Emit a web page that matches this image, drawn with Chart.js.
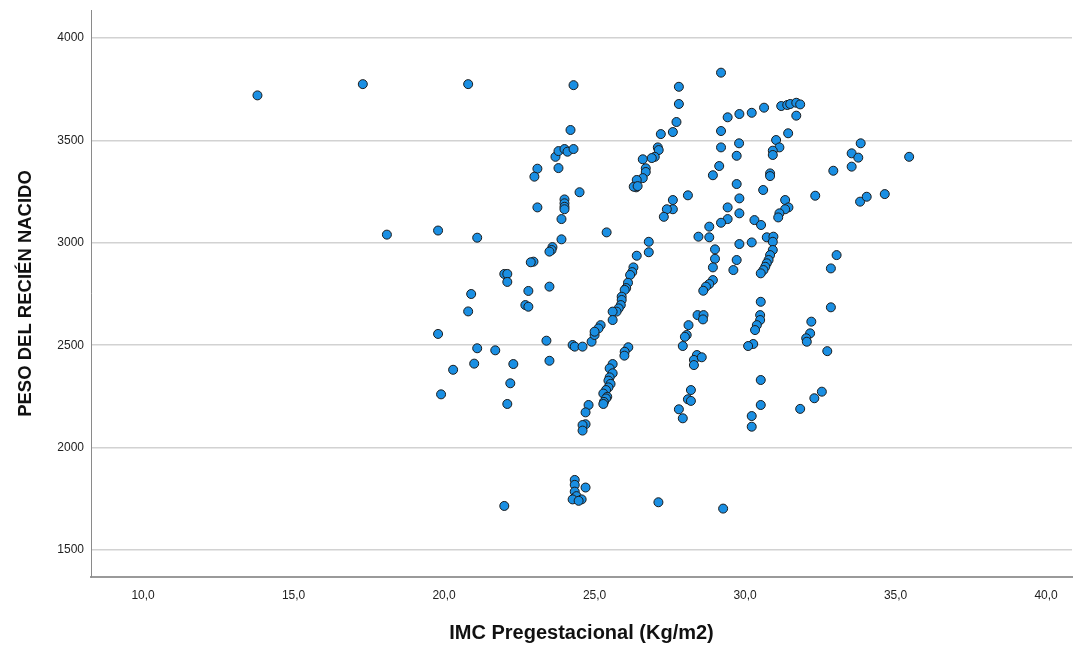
<!DOCTYPE html>
<html>
<head>
<meta charset="utf-8">
<script src="https://cdn.jsdelivr.net/npm/chart.js@4/dist/chart.umd.min.js"></script>
<style>
	html, body { margin: 0; padding: 0; background: #fff; }
	#wrap { width: 1086px; height: 645px; }
</style>
</head>
<body>
<div id="wrap"><canvas id="mycanvas" width="1086" height="645"></canvas></div>
<script>
// IMC pregestacional (x) y peso del recién nacido (y)
var imc = [
	13.8, 17.3, 18.1, 20.8, 19.8, 19.8, 19.9, 20.3, 20.8, 20.9, 21.0, 21.1, 21.1, 21.7, 22.0, 22.0, 22.1, 22.1, 22.1, 22.2, 22.3,
	24.3, 24.2, 23.7, 23.8, 24.0, 24.1, 24.3, 23.8, 23.1, 23.0, 24.5, 24.0, 24.0, 24.0, 24.0, 23.1, 23.9, 23.9, 23.6, 23.57, 23.5,
	22.97, 22.88, 22.8, 23.5, 22.7, 22.8,
	23.4, 24.27, 24.34, 24.6, 24.9, 25.0, 23.5, 24.8, 24.7, 24.7, 24.6, 24.6, 24.34, 24.34, 24.34, 24.32, 24.7, 24.4, 24.57, 24.27, 24.47,
	27.8, 27.8, 27.72, 27.6, 27.2, 27.1, 27.13, 27.0, 26.9, 26.6, 26.7, 26.7, 26.6, 26.4, 26.38, 26.3, 26.43, 28.1, 27.6, 27.6, 27.4, 27.3,
	25.4, 28.45, 26.8, 26.8, 26.4, 26.29, 26.25, 26.18, 26.11, 26.05,
	26.0, 25.9, 25.9, 25.87, 25.8, 25.73, 25.6, 25.6, 25.2, 25.13, 25.0, 26.12, 26.0, 25.99,
	25.6, 25.5, 25.6, 25.5, 25.46, 25.53, 25.46, 25.38, 25.29, 25.42, 25.38, 25.31, 25.29,
	27.12, 28.12, 28.06, 27.93, 28.0, 28.42, 28.62, 28.6, 28.4, 28.3, 28.3, 28.56, 28.2, 28.1, 28.2, 27.8, 27.93,
	29.2, 29.42, 29.81, 30.22, 30.63, 31.2, 31.4, 31.5, 31.7, 31.83, 31.7, 29.2, 31.43, 29.2, 29.8, 31.03, 31.14, 30.92, 30.92, 29.72,
	29.14, 28.93, 30.83, 30.83, 29.72, 30.6, 29.81, 31.33, 31.44, 31.33, 31.14, 31.1, 29.42, 29.42, 29.2, 29.81, 30.31, 30.53,
	28.81, 28.81, 30.72, 30.94, 30.92, 29.81, 30.22, 29.0, 29.0, 28.93, 30.92, 30.83, 30.78, 30.72, 30.67, 30.61, 30.52,
	29.72, 29.61, 28.93, 28.81, 28.7, 28.61, 30.52,
	30.5, 30.5, 30.39, 30.33, 30.27, 30.1, 30.52, 30.52, 30.22, 30.22, 29.27, 32.2, 32.16, 32.03, 32.05, 31.83, 32.3,
	33.84, 33.54, 33.76, 33.54, 32.93, 35.45, 32.33, 33.82, 34.04, 34.64, 33.04, 32.85, 32.85, 32.73, 32.55
];
var peso = [
	3720, 3775, 3040, 3775, 3060, 2555, 2260, 2380, 2665, 2750, 2410, 3025, 2485, 2475, 1715, 2848, 2848, 2809, 2213, 2314, 2408,
	3770, 3551, 3420, 3448, 3458, 3445, 3458, 3365, 3362, 3323, 3247, 3212, 3193, 3176, 3164, 3173, 3116, 3017, 2979, 2965, 2957,
	2908, 2905, 2765, 2786, 2696, 2688,
	2522, 2501, 2493, 2493, 2517, 2550, 2424, 2208, 2172, 2114, 2110, 2083, 1842, 1818, 1785, 1753, 1805, 1763, 1747, 1747, 1740,
	3762, 3678, 3590, 3541, 3531, 3466, 3453, 3420, 3414, 3408, 3364, 3346, 3316, 3307, 3271, 3274, 3277, 3232, 3209, 3164, 3164, 3127,
	3051, 3030, 3005, 2954, 2937, 2880, 2857, 2843, 2805, 2779,
	2770, 2737, 2721, 2696, 2680, 2664, 2664, 2623, 2598, 2582, 2566, 2490, 2468, 2449,
	2408, 2387, 2363, 2343, 2327, 2311, 2294, 2281, 2264, 2248, 2240, 2223, 2213,
	1733, 2598, 2550, 2496, 2541, 2647, 2647, 2626, 2452, 2428, 2403, 2441, 2281, 2236, 2228, 2187, 2143,
	3831, 3613, 3629, 3635, 3660, 3668, 3673, 3678, 3684, 3676, 3621, 3546, 3535, 3466, 3486, 3502, 3466, 3450, 3429, 3425,
	3375, 3330, 3339, 3326, 3287, 3258, 3217, 3209, 3173, 3164, 3144, 3124, 3173, 3116, 3098, 3144, 3111, 3087,
	3079, 3027, 3027, 3030, 3005, 2994, 3002, 2968, 2922, 2880, 2965, 2940, 2916, 2900, 2883, 2867, 2851,
	2916, 2867, 2818, 2799, 2786, 2766, 2712,
	2647, 2623, 2598, 2574, 2506, 2496, 2330, 2208, 2154, 2102, 1702, 2615, 2558, 2534, 2517, 2189, 2241,
	3486, 3437, 3416, 3372, 3352, 3420, 3230, 3201, 3225, 3238, 2940, 2875, 2685, 2471, 2273
];
var xTicks = [10, 15, 20, 25, 30, 35, 40];
var yTicks = [1500, 2000, 2500, 3000, 3500, 4000];

var puntos = [];
for (var i in imc) {
	puntos.push({x: imc[i], y: peso[i]});
}

var fuente = "'Liberation Sans Narrow', 'Liberation Sans', Arial, sans-serif";

var ctx = document.getElementById('mycanvas');
var chart = new Chart(ctx, {
	type: 'scatter',
	data: {
		datasets: [{
			label: 'PESO DEL RECIÉN NACIDO',
			data: puntos,
			backgroundColor: '#1a8fe3',
			borderColor: '#1b1b1b',
			borderWidth: 1,
			pointRadius: 4.5,
			pointHoverRadius: 4.5
		}]
	},
	options: {
		responsive: false,
		animation: false,
		layout: { padding: { left: 0, right: 14, top: 10, bottom: 0 } },
		plugins: { legend: { display: false }, tooltip: { enabled: false } },
		scales: {
			x: {
				type: 'linear',
				min: 8.27,
				max: 40.86,
				afterBuildTicks: function(s) { s.ticks = xTicks.map(function(v) { return {value: v}; }); },
				afterFit: function(s) { s.height = 68; s.paddingLeft = 0; s.paddingRight = 0; },
				grid: { display: false, drawTicks: false },
				border: { display: true, color: '#9a9a9a', width: 2 },
				ticks: {
					padding: 11,
					color: '#222',
					font: { family: fuente, size: 12 },
					maxRotation: 0,
					callback: function(v) { return v.toFixed(1).replace('.', ','); }
				},
				title: {
					display: true,
					text: 'IMC Pregestacional (Kg/m2)',
					color: '#111',
					font: { family: fuente, size: 20, weight: 'bold' },
					padding: { top: 0, bottom: 0 }
				}
			},
			y: {
				type: 'linear',
				min: 1368,
				max: 4137,
				afterBuildTicks: function(s) { s.ticks = yTicks.map(function(v) { return {value: v}; }); },
				afterFit: function(s) { s.width = 91; s.paddingTop = 0; s.paddingBottom = 0; },
				grid: { display: true, drawTicks: false, color: '#d2d2d2', lineWidth: 1.6 },
				border: { display: true, color: '#8a8a8a', width: 1 },
				ticks: {
					padding: 7,
					color: '#222',
					font: { family: fuente, size: 12 },
					callback: function(v) { return String(v); }
				},
				title: {
					display: true,
					text: 'PESO DEL RECIÉN NACIDO',
					color: '#111',
					font: { family: fuente, size: 18.5, weight: 'bold' },
					padding: { top: 15, bottom: 0 }
				}
			}
		}
	}
});
</script>
</body>
</html>
